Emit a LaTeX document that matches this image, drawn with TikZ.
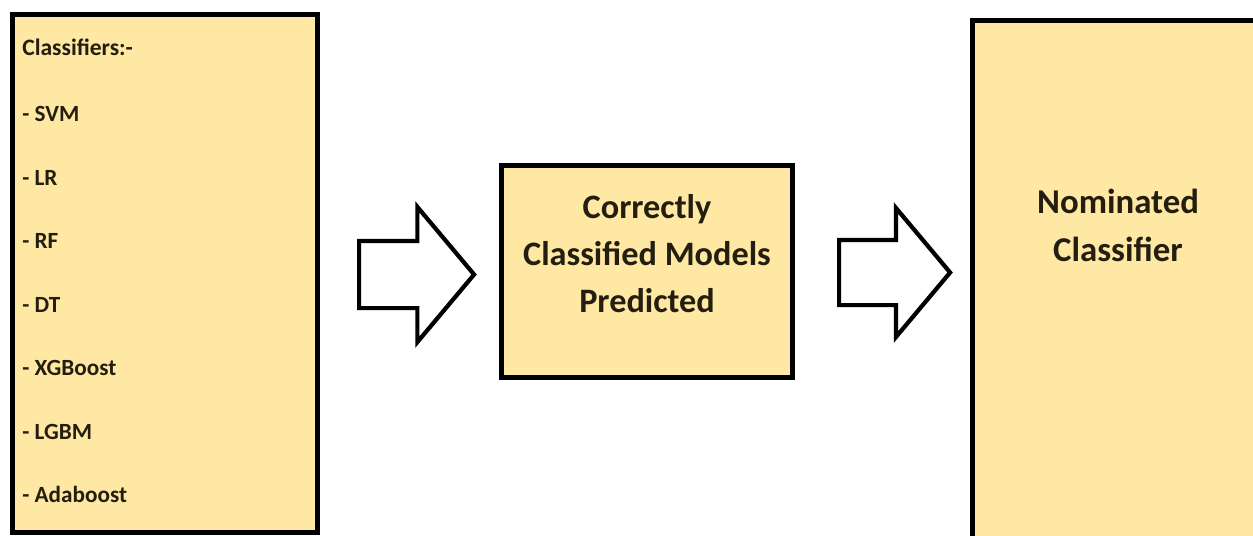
\documentclass[tikz,border=0pt]{standalone}
\usepackage{fontspec}
\setmainfont{Carlito}
\usetikzlibrary{shapes.arrows}

\definecolor{boxfill}{RGB}{254,232,163}
\definecolor{inkdark}{RGB}{35,30,15}

\tikzset{
  box/.style={draw=black, line width=2.8pt, fill=boxfill, inner sep=0pt},
  blockarrow/.style={draw=black, line width=2.4pt, fill=white, single arrow,
    single arrow tip angle=100, inner xsep=0pt, anchor=tail},
  listtext/.style={anchor=base west, inner sep=0pt, text=inkdark,
    font=\fontsize{13.2pt}{15pt}\selectfont\bfseries},
  bigtext/.style={align=center, inner sep=0pt, text=inkdark},
}

\begin{document}
\begin{tikzpicture}[x=0.02cm,y=-0.02cm]
        \clip (0,0) rectangle (1253,535);
        % the three panels
        \node[box, minimum width=6.1cm, minimum height=10.36cm] (list) at (165,273.5) {};
        \node[box, minimum width=5.82cm, minimum height=4.24cm] (pred) at (647,271.5) {};
        \node[box, minimum width=5.81cm, minimum height=10.79cm] (nom) at (1117.75,290.25) {};
        % block arrows
        \node[blockarrow, minimum height=2.3cm, inner ysep=0.63cm,
          single arrow head extend=0.68cm] (arr1) at (357,274.5) {};
        \node[blockarrow, minimum height=2.22cm, inner ysep=0.61cm,
          single arrow head extend=0.64cm] (arr2) at (837,272.5) {};
        % list of classifiers
        \node[listtext, font=\fontsize{13.4pt}{15pt}\selectfont\bfseries] (cl-0) at (22,55.5) {Classifiers:-};
        \foreach \name [count=\i] in {SVM,LR,RF,DT,XGBoost,LGBM,Adaboost} {
          \node[listtext] (cl-\i) at (22,121.5+63.5*\i-63.5) {- \name};
        }
        % box captions
        \node[bigtext, font=\fontsize{19.5pt}{26.7pt}\selectfont\bfseries] (pred-text) at (647,254)
          {Correctly\\Classified Models\\Predicted};
        \node[bigtext, font=\fontsize{19.8pt}{27.3pt}\selectfont\bfseries] (nom-text) at (1118,225)
          {Nominated\\Classifier};
      \end{tikzpicture}
\end{document}
